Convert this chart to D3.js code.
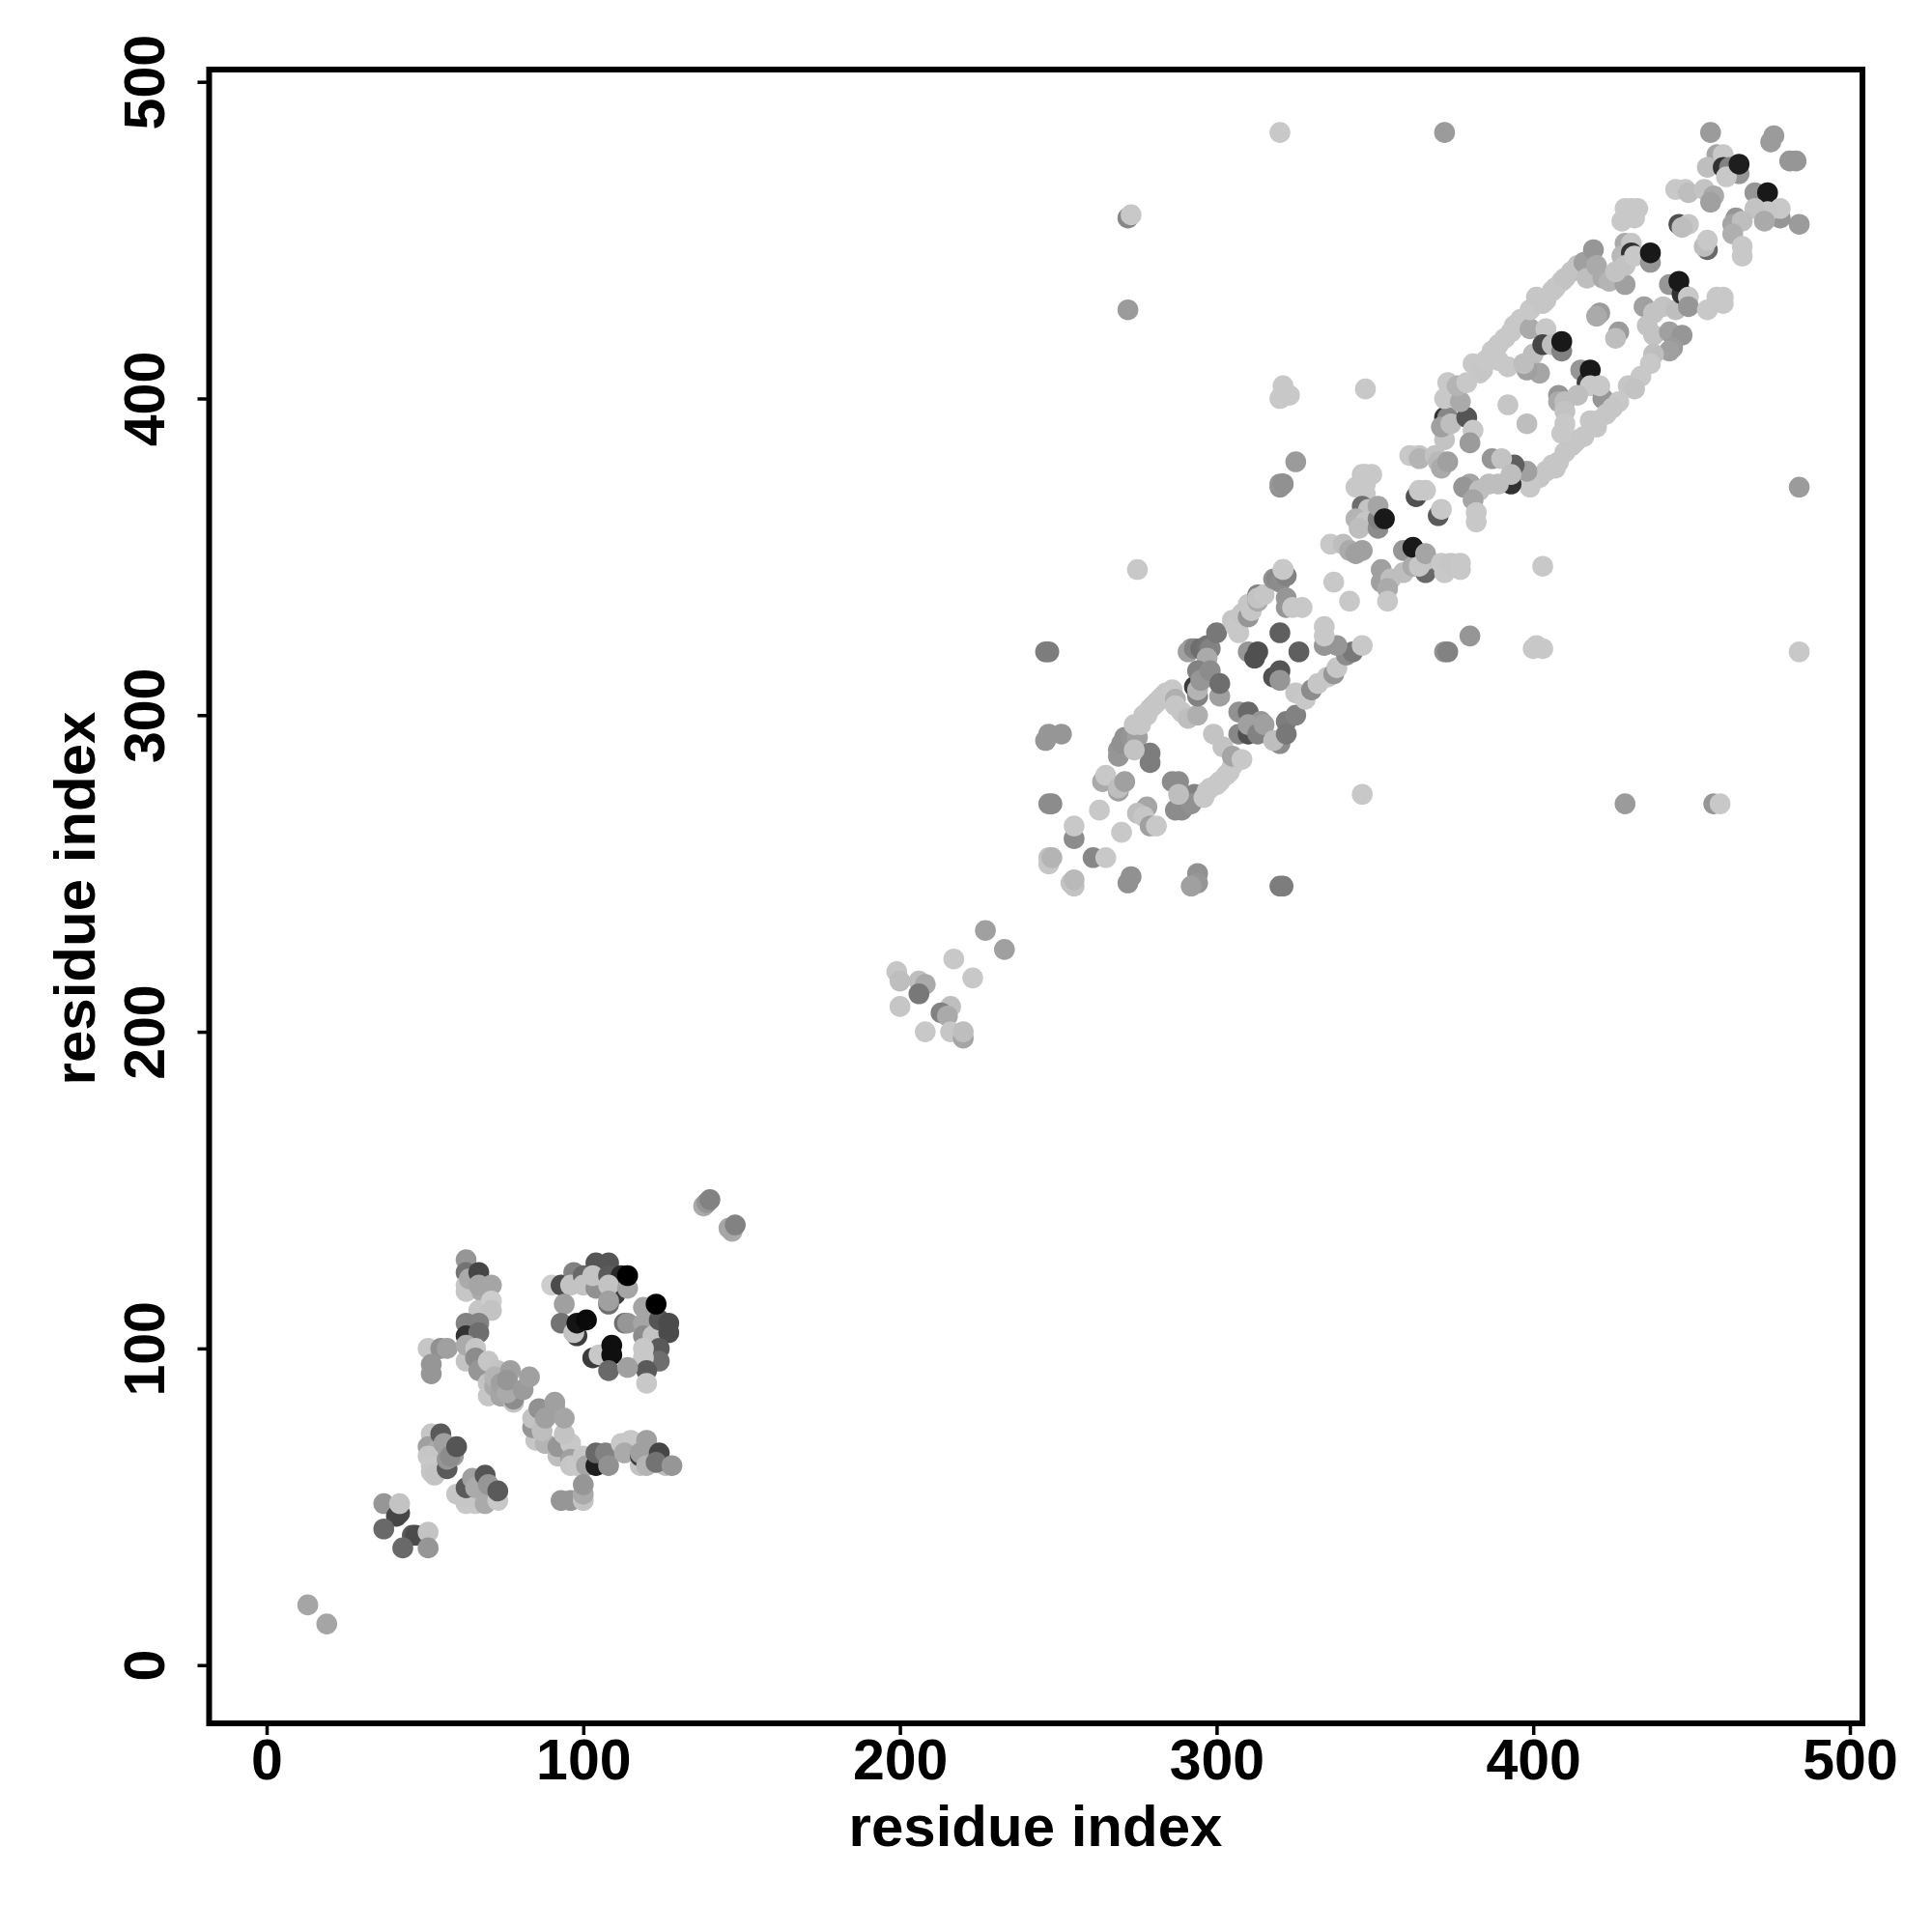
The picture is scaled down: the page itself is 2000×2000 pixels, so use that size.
<!DOCTYPE html>
<html><head><meta charset="utf-8">
<script src="https://cdn.jsdelivr.net/npm/d3@7"></script>
<style>html,body{margin:0;background:#fff}svg{display:block}text{font-family:"Liberation Sans",Arial,sans-serif;font-weight:700;fill:#000}</style>
</head><body><div id="chart"></div>
<script>
const tickValues=[0,100,200,300,400,500];
const xLabel="residue index", yLabel="residue index";
// contacts: [residue i, residue j, grey level]
const sparseLow=[[13,19,165],[19,13,165],[37,51,150],[41,47,70],[42,48,70],[42,51,195],[37,43,105],[46,41,90],[47,41,75],[51,42,195],[43,37,105],[51,37,150]];
const blockA=[[52,73,198],[51,69,160],[54,68,170],[51,66,198],[52,63,200],[52,61,198],[53,60,195],[57,62,90],[57,65,150],[55,73,90],[56,70,160],[59,66,155],[58,66,140],[60,69,85]];
const blockB=[[60,54,198],[63,51,200],[66,51,200],[62,53,198],[66,53,198],[63,56,90],[65,59,160],[66,56,170],[69,51,170],[69,60,85],[70,57,150],[73,52,200],[73,55,90]];
const blockC=[[51,100,198],[55,100,145],[57,100,160],[52,95,150],[52,92,150]];
const columnD=[[63,128,150],[63,124,115],[63,120,200],[63,118,198],[64,122,170],[67,124,70],[68,118,170],[67,120,165],[71,120,165],[67,112,198],[71,115,205],[71,112,195],[63,108,130],[67,108,130],[63,104,50],[67,105,110],[63,96,195],[63,101,170],[66,100,198],[66,97,140],[67,93,150],[70,96,198]];
const bandE=[[70,89,195],[70,85,198],[72,88,170],[74,85,140],[73,93,195],[72,91,180],[74,85,165],[74,89,160],[78,83,195],[78,84,140],[76,86,170],[77,93,160],[76,90,150],[81,87,155],[83,91,160]];
const bandF=[[85,71,198],[88,70,180],[84,75,150],[84,78,195],[87,74,190],[86,81,145],[88,78,160],[92,66,190],[92,69,150],[91,83,160],[91,81,160],[96,70,200],[94,73,195],[94,78,165],[96,65,160],[96,63,198],[98,63,200],[100,66,198],[101,63,165]];
const bandG=[[104,63,30],[104,67,105],[107,67,130],[108,63,145],[112,70,200],[115,71,200],[113,67,170],[118,63,195],[118,66,60],[118,67,160],[120,71,160],[120,63,180],[126,63,190],[124,67,70],[123,64,115],[128,63,150]];
const blockH=[[93,52,150],[96,52,150],[100,52,195],[100,54,170],[100,57,150]];
const ringLow=[[90,120,205],[93,120,75],[97,124,130],[96,120,195],[100,123,105],[100,120,195],[104,119,145],[104,127,85],[108,127,85],[103,123,195],[108,123,90],[112,123,40],[110,117,60],[108,120,195],[114,119,165],[114,123,0],[108,114,110],[108,115,160],[94,114,160],[93,108,115],[98,104,60],[97,105,195],[98,108,20],[101,109,10],[113,108,110],[114,108,150],[119,113,165],[119,108,165],[119,104,140],[122,104,195],[124,109,85],[123,114,0],[127,108,75],[127,105,75],[124,100,90],[124,96,110],[119,100,200],[119,97,200],[120,93,90],[120,89,200],[103,97,60],[105,98,200],[109,101,15],[109,98,15],[108,93,105],[114,94,160]];
const midPairs=[[138,145,170],[139,146,150],[140,147,130],[147,137,170],[146,138,165],[148,139,130]];
const midBlock=[[199,219,198],[200,216,190],[200,208,198],[206,216,190],[208,215,170],[206,212,120],[208,200,200],[217,223,200],[223,217,200],[216,208,190],[213,206,130],[215,205,170],[216,200,198],[220,198,165],[220,200,190],[227,232,160],[233,226,160]];
const lowerSpray=[[247,255,195],[247,253,198],[248,255,180],[254,247,195],[255,246,195],[255,248,185],[255,261,140],[255,265,200],[261,255,135],[265,255,200],[263,270,200],[270,263,200],[264,279,170],[265,281,200],[269,276,160],[269,277,190],[271,279,160],[272,247,145],[273,249,145],[246,320,125],[247,320,125],[246,292,150],[247,294,150],[251,294,150],[247,272,140],[248,272,140],[275,346,200],[320,246,125],[321,246,125],[294,250,145],[294,247,150],[292,246,160],[320,372,145],[321,373,145],[346,275,200],[429,272,155],[457,272,150],[459,272,200],[272,457,135],[273,458,200],[272,428,155],[320,484,200]];
const ringMidLower=[[278,271,165],[275,269,190],[277,268,198],[279,265,160],[281,265,200],[287,270,140],[289,270,140],[291,273,140],[293,275,130],[292,272,145],[286,279,140],[288,279,140],[288,275,190],[297,276,200],[296,274,200],[298,277,200],[300,278,200],[301,279,200],[303,281,200],[304,282,200],[305,284,200]];
const ringMidUpper=[[269,287,150],[269,289,150],[270,291,145],[271,293,145],[273,293,150],[275,293,160],[274,297,198],[276,297,198],[279,288,125],[279,285,125],[274,289,195],[277,300,198],[278,300,198],[279,302,198],[280,303,198],[281,304,198],[282,305,198],[283,306,198],[284,307,198],[286,308,200],[287,305,175],[287,303,198],[289,301,198],[291,299,190],[294,300,175],[293,309,60],[294,306,130],[294,308,180],[292,321,150],[291,320,160],[293,321,130],[295,321,110],[297,322,115],[298,321,130],[300,326,120],[297,318,170],[294,314,130],[297,312,180],[295,311,150],[298,314,140],[301,306,160],[301,310,110]];
const ringMidBand=[[305,330,198],[306,328,200],[307,326,200],[308,332,198],[310,331,150],[311,333,198],[310,335,198],[313,336,170],[313,338,130],[313,337,195],[315,338,198],[318,343,145],[319,343,135],[320,342,140],[321,346,200],[322,344,130],[321,346,200],[322,337,150],[322,334,150],[324,334,200],[327,334,200]];
const ringMidCentre=[[320,326,95],[310,320,150],[312,318,80],[313,320,80],[326,320,95],[318,312,80],[320,314,85],[320,311,150]];
const ringMidRight=[[307,301,145],[310,301,105],[307,294,135],[310,294,80],[314,298,150],[310,297,160],[313,294,130],[315,297,160],[320,291,140],[318,292,190],[322,298,125],[322,294,120],[325,300,130],[299,294,195],[302,290,195],[305,287,165],[308,286,200],[325,307,198],[328,305,200],[330,308,140],[332,310,198],[335,312,198],[337,313,150],[338,315,198],[341,319,140],[343,320,120],[346,322,200],[334,322,150],[338,322,150],[334,325,200],[334,328,200]];
const centreKnot=[[325,380,155],[320,373,150],[321,373,145],[344,372,200],[346,376,198],[347,376,200],[349,376,200],[347,373,200],[347,370,200],[346,366,110],[348,365,195],[344,362,180],[347,361,198],[345,359,190],[351,359,140],[351,362,130],[351,366,165],[353,362,25],[336,354,200],[340,354,190],[342,352,170],[346,352,160],[344,351,160],[337,342,200],[342,336,200],[352,346,160],[352,342,160],[355,343,190],[354,340,170],[354,336,200],[359,345,190],[359,352,150],[362,347,170],[362,353,25],[366,345,105],[366,349,195],[364,347,198],[366,351,165],[371,348,200],[372,345,200],[374,348,198],[377,348,200],[377,346,200]];
const outliers=[[380,325,150],[372,320,145],[373,320,130],[400,321,200],[401,322,200],[403,321,200],[403,347,200],[347,403,200],[321,402,200],[320,400,200],[323,401,200],[321,404,200],[372,484,155],[456,484,155],[476,483,155],[475,481,155],[483,475,150],[481,475,150],[484,455,155],[484,372,155],[484,320,200]];
const ringHighA=[[372,394,50],[373,394,135],[372,387,195],[371,391,160],[374,392,190],[379,394,85],[381,390,200],[380,386,155],[361,382,200],[364,382,198],[364,381,180],[369,382,195],[370,380,185],[371,378,170],[373,380,160],[363,369,80],[364,371,200],[366,371,200],[370,363,90],[371,365,200]];
const ringHighB=[[372,400,200],[377,399,170],[373,405,200],[376,404,180],[379,405,200],[381,411,200],[383,408,200],[384,409,198],[385,412,200],[387,415,200],[389,417,200],[389,412,200],[392,410,200],[391,419,200],[393,421,200],[394,423,200],[396,425,200],[392,398,198],[398,392,190]];
const ringHighC=[[399,422,170],[404,422,200],[400,414,190],[403,417,70],[406,417,190],[402,408,165],[398,409,160],[397,411,190],[409,415,130],[409,418,25],[408,401,150],[408,399,170],[410,399,190],[410,396,195],[415,409,150],[417,405,60],[418,409,25],[418,404,200],[414,401,190],[422,400,150],[421,404,200]];
const ringHighBand=[[399,428,200],[401,432,198],[403,430,198],[404,431,198],[406,434,198],[407,435,198],[409,437,198],[410,438,195],[412,440,195],[414,442,195],[416,443,160],[417,438,190],[419,447,150],[420,442,170],[421,427,155],[420,426,170],[427,421,155],[426,419,190],[422,438,170],[424,437,180],[429,436,160],[429,449,170],[431,449,198],[428,445,185],[431,446,50],[429,442,195],[426,440,195],[432,445,200],[437,443,150],[437,446,25]];
const ringHighD=[[435,429,160],[438,427,195],[441,429,195],[445,428,190],[436,423,195],[438,420,195],[443,421,160],[447,420,150],[444,416,155],[443,415,160],[438,414,190],[437,411,200],[434,407,200],[430,404,198],[432,403,195],[427,399,200],[425,397,198],[423,395,198],[420,393,198],[418,393,198],[420,391,198],[416,388,198],[414,387,198],[413,386,198],[412,385,198],[410,392,200],[409,389,200],[410,383,198],[408,380,198],[407,378,198],[406,379,198],[404,377,198],[402,375,198],[399,372,200],[398,377,160]];
const ringHighE=[[394,379,95],[387,381,150],[390,381,195],[393,373,50],[393,376,190],[389,373,190],[386,373,190],[380,373,165],[378,372,150],[383,371,190],[381,368,165],[382,364,200],[382,361,200]];
const topKnot=[[428,456,200],[431,460,200],[429,460,200],[433,460,200],[432,457,200],[443,436,150],[447,433,50],[446,437,25],[449,432,200],[449,429,150],[458,432,200],[460,432,200],[460,430,200],[455,428,200],[446,455,80],[449,455,198],[447,454,190],[455,447,105],[454,448,190],[455,450,200],[445,466,200],[448,466,200],[449,465,190],[454,466,195],[457,464,170],[456,462,160],[458,477,165],[460,477,200],[455,473,190],[460,473,50],[462,473,130],[465,471,150],[461,470,200],[465,474,30],[470,465,150],[473,460,50],[474,465,25],[478,457,150],[478,460,200],[474,459,198],[470,460,195],[464,457,150],[463,455,165],[466,456,190],[473,456,170],[463,452,175],[466,448,200],[466,445,200]];
const contacts=[].concat(sparseLow,blockA,blockB,blockC,columnD,bandE,bandF,bandG,blockH,ringLow,midPairs,midBlock,lowerSpray,ringMidLower,ringMidUpper,ringMidBand,ringMidCentre,ringMidRight,centreKnot,outliers,ringHighA,ringHighB,ringHighC,ringHighBand,ringHighD,ringHighE,topKnot);

const W=2000,H=2000;
const frame={l:216.5,r:1928,t:72,b:1784};
const x=d3.scaleLinear().domain([0,500]).range([276,1915]);
const y=d3.scaleLinear().domain([0,500]).range([1723.7,84.7]);
const svg=d3.select("#chart").append("svg").attr("width",W).attr("height",H).attr("viewBox",[0,0,W,H]);
svg.append("g").selectAll("circle").data(contacts).join("circle")
  .attr("cx",d=>x(d[0])).attr("cy",d=>y(d[1])).attr("r",10.8)
  .attr("fill",d=>d3.rgb(d[2],d[2],d[2]).formatHex());
svg.append("rect").attr("x",frame.l).attr("y",frame.t).attr("width",frame.r-frame.l).attr("height",frame.b-frame.t)
  .attr("fill","none").attr("stroke","#000").attr("stroke-width",6);
const xAxis=svg.append("g").attr("transform",`translate(0,${frame.b})`).call(d3.axisBottom(x).tickValues(tickValues).tickSize(12).tickPadding(4).tickFormat(d3.format("d")));
const yAxis=svg.append("g").attr("transform",`translate(${frame.l},0)`).call(d3.axisLeft(y).tickValues(tickValues).tickSize(12).tickFormat(d3.format("d")));
[xAxis,yAxis].forEach(a=>{a.select(".domain").remove();a.selectAll("line").attr("stroke","#000").attr("stroke-width",3.5);a.selectAll("text").attr("font-size",59).attr("font-family","Liberation Sans").attr("font-weight",700).attr("fill","#000");});
xAxis.selectAll("text").attr("dy","0.71em");
yAxis.selectAll("text").attr("text-anchor","middle").attr("dy",0).attr("x",0).attr("y",0)
  .attr("transform",`translate(-47,0) rotate(-90)`);
svg.append("text").attr("x",1072).attr("y",1911).attr("text-anchor","middle").attr("font-size",60).text(xLabel);
svg.append("text").attr("transform","translate(98,930) rotate(-90)").attr("text-anchor","middle").attr("font-size",60).text(yLabel);
</script></body></html>
